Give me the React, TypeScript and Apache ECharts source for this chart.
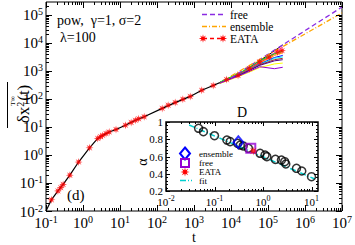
import React, { useEffect, useRef } from "react";
import * as echarts from "echarts";

// ---- main panel data (t, <δx²>) ----
const T_MAIN = [0.1, 0.14, 0.21, 0.29, 0.44, 0.76, 1.5, 2.5, 3.4, 5.1, 7.8, 14, 26, 45, 138, 310, 790, 1620, 3300, 7600];
const Y_MAIN = [0.01, 0.025, 0.052, 0.089, 0.19, 0.56, 1.8, 3.9, 5.0, 6.6, 8.1, 11.5, 17.4, 23, 46, 74, 123, 204, 302, 490];

const T_EATA = [0.14, 0.21, 0.25, 0.29, 0.44, 0.76, 1.5, 2.5, 3.0, 3.4, 4.2, 5.1, 7.8, 14, 20, 26, 32, 45, 138, 200, 310, 500, 790, 1620, 3300, 7600, 15500, 31600, 59000, 107000, 182000, 240000];
const Y_EATA = [0.025, 0.052, 0.068, 0.089, 0.19, 0.56, 1.8, 3.9, 4.5, 5.0, 5.8, 6.6, 8.1, 11.5, 14.5, 17.4, 19.5, 23, 46, 60, 74, 97, 123, 204, 302, 490, 690, 1200, 2090, 3090, 4680, 5300];

const FAN_T = [5000, 20000, 60000, 150000, 250000];
const FAN_Y = [
  [380, 891, 2291, 5248, 8511],
  [380, 871, 2138, 4467, 7079],
  [380, 851, 1995, 3981, 5623],
  [398, 955, 2291, 4169, 5012],
  [380, 832, 1905, 3548, 4467],
  [372, 813, 1778, 3020, 3548],
  [372, 794, 1698, 2818, 3162],
  [372, 794, 1660, 2512, 2818],
  [363, 776, 1585, 2291, 2512],
  [355, 708, 1318, 1778, 1905],
  [363, 741, 1413, 1200, 1350],
];
const FAN_COLORS = ["#000000", "#ff00ff", "#ff0000", "#00ff00", "#ffa500", "#0000ff", "#00ffff", "#a52a2a", "#4b0082", "#ffff00", "#9400d3"];

const T_FREE = [10000, 10000000];
const Y_FREE = [562, 190546];
const T_ENS = [10000, 10000000];
const Y_ENS = [661, 117490];

// ---- inset data (D, α) ----
const ALPHA_D = [0.047, 0.059, 0.1, 0.18, 0.21, 0.3, 0.34, 0.39, 0.5, 0.87, 1.1, 1.2, 1.8, 2.4, 2.8, 2.95, 4.9, 6.3, 10];
const ALPHA = [0.927, 0.888, 0.841, 0.791, 0.772, 0.753, 0.733, 0.722, 0.695, 0.637, 0.617, 0.598, 0.567, 0.559, 0.54, 0.513, 0.463, 0.432, 0.366];
const FIT_D = [0.03, 11.7];
const FIT_A = [0.965, 0.339];
const ENS_PT = [0.31, 0.765];
const FREE_PT = [0.56, 0.695];
const EATA_PT = [0.63, 0.664];

const SERIF = "Liberation Serif";
const L = Math.log10;

function starPath(r: number, inner: number) {
  let d = "";
  for (let i = 0; i < 16; i++) {
    const a = (i * Math.PI) / 8 - Math.PI / 2;
    const rr = i % 2 === 0 ? r : r * inner;
    d += (i === 0 ? "M" : "L") + (rr * Math.cos(a)).toFixed(3) + " " + (rr * Math.sin(a)).toFixed(3) + " ";
  }
  return d + "Z";
}
const STAR_D = starPath(10, 0.4);
const STAR_SYMBOL = "path://" + starPath(10, 0.4);

function logTicks(lo: number, hi: number) {
  const out: number[][] = [];
  for (let e = Math.floor(lo); e <= Math.ceil(hi); e++) {
    for (let k = 1; k <= 9; k++) {
      const v = e + Math.log10(k);
      if (v >= lo - 1e-9 && v <= hi + 1e-9) out.push([v, k === 1 ? 1 : 0]);
    }
  }
  return out;
}
function linTicks(lo: number, hi: number, minor: number, major: number) {
  const out: number[][] = [];
  const n = Math.round((hi - lo) / minor);
  for (let i = 0; i <= n; i++) {
    const v = lo + i * minor;
    const isMajor = Math.abs(v / major - Math.round(v / major)) < 1e-6;
    out.push([v, isMajor ? 1 : 0]);
  }
  return out;
}

function tickSeries(gi: number, dir: "x" | "y", data: number[][], majLen: number, minLen: number) {
  return {
    type: "custom",
    xAxisIndex: gi,
    yAxisIndex: gi,
    silent: true,
    clip: false,
    z: 20,
    data,
    renderItem: (params: any, api: any) => {
      const cs = params.coordSys;
      const v = api.value(0);
      const len = api.value(1) === 1 ? majLen : minLen;
      const st = { stroke: "#000", lineWidth: 1 };
      if (dir === "x") {
        const px = Math.round(api.coord([v, 0.5])[0]) + 0.5;
        const yb = cs.y + cs.height;
        return {
          type: "group",
          children: [
            { type: "line", shape: { x1: px, y1: yb, x2: px, y2: yb - len }, style: st },
            { type: "line", shape: { x1: px, y1: cs.y, x2: px, y2: cs.y + len }, style: st },
          ],
        };
      }
      const py = Math.round(api.coord([0, v])[1]) + 0.5;
      const xr = cs.x + cs.width;
      return {
        type: "group",
        children: [
          { type: "line", shape: { x1: cs.x, y1: py, x2: cs.x + len, y2: py }, style: st },
          { type: "line", shape: { x1: xr, y1: py, x2: xr - len, y2: py }, style: st },
        ],
      };
    },
  };
}

const powFmt = (v: number) => (Math.abs(v - Math.round(v)) > 1e-6 ? "" : `{b|10}{s|${Math.round(v)}}`);

export default function App() {
  const ref = useRef<HTMLDivElement>(null);
  useEffect(() => {
    if (!ref.current) return;
    echarts.graphic.registerShape("star8", echarts.graphic.extendPath(STAR_D, {}) as any);
    const chart = echarts.init(ref.current, null, { renderer: "svg" });
    const mainRich = {
      b: { fontFamily: SERIF, fontSize: 15, color: "#000", verticalAlign: "bottom" },
      s: { fontFamily: SERIF, fontSize: 10, color: "#000", verticalAlign: "bottom", padding: [0, 0, 6, 0] },
    };
    const insetRich = {
      b: { fontFamily: SERIF, fontSize: 11, color: "#000", verticalAlign: "bottom" },
      s: { fontFamily: SERIF, fontSize: 8, color: "#000", verticalAlign: "bottom", padding: [0, 0, 5, 0] },
    };
    const noAxis = { axisLine: { show: false }, axisTick: { show: false }, splitLine: { show: false } };

    const fanSeries = FAN_Y.map((ys, i) => ({
      type: "line",
      xAxisIndex: 0,
      yAxisIndex: 0,
      data: FAN_T.map((t, j) => [L(t), L(ys[j])]),
      symbol: "none",
      lineStyle: { color: FAN_COLORS[i], width: 1 },
      z: 3,
    }));

    chart.setOption({
      animation: false,
      grid: [
        { left: 46, top: 2, width: 299, height: 209, show: true, borderColor: "#000", borderWidth: 1, backgroundColor: "#fff" },
        { left: 166, top: 122, width: 152, height: 69, show: true, borderColor: "#000", borderWidth: 1.5, backgroundColor: "#fff", z: 5 },
      ],
      xAxis: [
        {
          type: "value", gridIndex: 0, min: -1, max: 7, interval: 1, ...noAxis,
          axisLabel: { formatter: powFmt, rich: mainRich, margin: 3 },
        },
        {
          type: "value", gridIndex: 1, min: -2, max: 1.134, interval: 1, ...noAxis,
          axisLabel: { formatter: powFmt, rich: insetRich, margin: 3 },
        },
      ],
      yAxis: [
        {
          type: "value", gridIndex: 0, min: -2, max: 5.46, interval: 1, ...noAxis,
          axisLabel: { formatter: powFmt, rich: mainRich, margin: 3 },
        },
        {
          type: "value", gridIndex: 1, min: 0.2, max: 1, interval: 0.2, ...noAxis,
          axisLabel: { fontFamily: SERIF, fontSize: 11, color: "#000", margin: 3 },
        },
      ],
      series: [
        {
          type: "line", xAxisIndex: 0, yAxisIndex: 0, symbol: "none", z: 3,
          data: T_MAIN.map((t, i) => [L(t), L(Y_MAIN[i])]),
          lineStyle: { color: "#000", width: 1.2 },
        },
        ...fanSeries,
        {
          type: "line", xAxisIndex: 0, yAxisIndex: 0, symbol: "none", z: 4,
          data: T_FREE.map((t, i) => [L(t), L(Y_FREE[i])]),
          lineStyle: { color: "#8a2be2", width: 1.3, type: [5, 3] },
        },
        {
          type: "line", xAxisIndex: 0, yAxisIndex: 0, symbol: "none", z: 4,
          data: T_ENS.map((t, i) => [L(t), L(Y_ENS[i])]),
          lineStyle: { color: "#ffa500", width: 1.3, type: [5, 2, 1, 2] },
        },
        {
          type: "scatter", xAxisIndex: 0, yAxisIndex: 0, symbol: STAR_SYMBOL, symbolSize: 8, z: 6,
          data: T_EATA.map((t, i) => [L(t), L(Y_EATA[i])]),
          itemStyle: { color: "#ff0000" },
        },
        // inset
        {
          type: "line", xAxisIndex: 1, yAxisIndex: 1, symbol: "none", z: 6,
          data: FIT_D.map((d, i) => [L(d), FIT_A[i]]),
          lineStyle: { color: "#00d0d0", width: 1.5, type: [6, 2, 1, 2] },
        },
        {
          type: "scatter", xAxisIndex: 1, yAxisIndex: 1, symbol: "circle", symbolSize: 8, z: 7,
          data: ALPHA_D.map((d, i) => [L(d), ALPHA[i]]),
          itemStyle: { color: "rgba(0,0,0,0)", borderColor: "#000", borderWidth: 1.5 },
        },
        {
          type: "scatter", xAxisIndex: 1, yAxisIndex: 1, symbol: "diamond", symbolSize: [10, 12], z: 8,
          data: [[L(ENS_PT[0]), ENS_PT[1]]],
          itemStyle: { color: "rgba(0,0,0,0)", borderColor: "#0000ff", borderWidth: 2 },
        },
        {
          type: "scatter", xAxisIndex: 1, yAxisIndex: 1, symbol: "rect", symbolSize: 9, z: 8,
          data: [[L(FREE_PT[0]), FREE_PT[1]]],
          itemStyle: { color: "rgba(0,0,0,0)", borderColor: "#9400d3", borderWidth: 2 },
        },
        {
          type: "scatter", xAxisIndex: 1, yAxisIndex: 1, symbol: STAR_SYMBOL, symbolSize: 9, z: 9,
          data: [[L(EATA_PT[0]), EATA_PT[1]]],
          itemStyle: { color: "#ff0000" },
        },
        tickSeries(0, "x", logTicks(-1, 7), 6, 3),
        tickSeries(0, "y", logTicks(-2, 5.46), 6, 3),
        tickSeries(1, "x", logTicks(-2, 1.134), 4, 2),
        tickSeries(1, "y", linTicks(0.2, 1, 0.04, 0.2), 4, 2),
      ],
      graphic: [
        { type: "text", left: 57, top: 13, z: 30, style: { text: "pow,  γ=1, σ=2", fontFamily: SERIF, fontSize: 14, fill: "#000" } },
        { type: "text", left: 60, top: 30, z: 30, style: { text: "λ=100", fontFamily: SERIF, fontSize: 14, fill: "#000" } },
        { type: "text", left: 67, top: 187, z: 30, style: { text: "(d)", fontFamily: SERIF, fontSize: 15, fill: "#000" } },
        { type: "text", left: 237, top: 105, z: 30, style: { text: "D", fontFamily: SERIF, fontSize: 14, fill: "#000" } },
        { type: "text", left: 192, top: 230, z: 30, style: { text: "t", fontFamily: SERIF, fontSize: 14, lineHeight: 14, fill: "#000" } },
        {
          type: "text", x: 142, y: 162, rotation: Math.PI / 2, z: 30,
          style: { text: "α", fontFamily: SERIF, fontSize: 14, fill: "#000", align: "center", verticalAlign: "middle" },
        },
        // y axis title
        {
          type: "text", x: 23, y: 104, rotation: Math.PI / 2, z: 30,
          style: {
            text: "{a|δx}{s|2}{a|(t)}",
            align: "center",
            verticalAlign: "middle",
            rich: {
              a: { fontFamily: SERIF, fontSize: 17, fill: "#000", verticalAlign: "bottom" },
              s: { fontFamily: SERIF, fontSize: 10, fill: "#000", verticalAlign: "bottom", padding: [0, 1, 6, 0] },
            },
          },
        },
        {
          type: "text", x: 13, y: 101, rotation: Math.PI / 2, z: 30,
          style: { text: "T∞", fontFamily: SERIF, fontSize: 7, fill: "#000", align: "center", verticalAlign: "middle" },
        },
        { type: "line", z: 30, shape: { x1: 7.5, y1: 82, x2: 7.5, y2: 128 }, style: { stroke: "#000", lineWidth: 1 } },
        // main legend
        { type: "line", z: 30, shape: { x1: 202, y1: 14.5, x2: 226, y2: 14.5 }, style: { stroke: "#8a2be2", lineWidth: 1.3, lineDash: [5, 3] } },
        { type: "text", left: 230, top: 8.5, z: 30, style: { text: "free", fontFamily: SERIF, fontSize: 11.5, lineHeight: 12, fill: "#000" } },
        { type: "line", z: 30, shape: { x1: 202, y1: 26.5, x2: 226, y2: 26.5 }, style: { stroke: "#ffa500", lineWidth: 1.3, lineDash: [5, 2, 1, 2] } },
        { type: "text", left: 230, top: 20.5, z: 30, style: { text: "ensemble", fontFamily: SERIF, fontSize: 11.5, lineHeight: 12, fill: "#000" } },
        { type: "line", z: 30, shape: { x1: 203, y1: 38.5, x2: 223, y2: 38.5 }, style: { stroke: "#ff0000", lineWidth: 1.3, lineDash: [4, 3] } },
        { type: "star8", x: 203, y: 38.5, scaleX: 0.42, scaleY: 0.42, z: 31, style: { fill: "#ff0000" } },
        { type: "star8", x: 223, y: 38.5, scaleX: 0.42, scaleY: 0.42, z: 31, style: { fill: "#ff0000" } },
        { type: "text", left: 230, top: 32.5, z: 30, style: { text: "EATA", fontFamily: SERIF, fontSize: 11.5, lineHeight: 12, fill: "#000" } },
        // inset legend
        { type: "polygon", z: 30, shape: { points: [[185, 147.5], [190, 153.5], [185, 159.5], [180, 153.5]] }, style: { fill: "none", stroke: "#0000ff", lineWidth: 2 } },
        { type: "text", left: 199, top: 149.5, z: 30, style: { text: "ensemble", fontFamily: SERIF, fontSize: 9, lineHeight: 9, fill: "#000" } },
        { type: "rect", z: 30, shape: { x: 181, y: 159, width: 8, height: 8 }, style: { fill: "none", stroke: "#9400d3", lineWidth: 2 } },
        { type: "text", left: 199, top: 158.5, z: 30, style: { text: "free", fontFamily: SERIF, fontSize: 9, lineHeight: 9, fill: "#000" } },
        { type: "star8", x: 185, y: 172, scaleX: 0.45, scaleY: 0.45, z: 31, style: { fill: "#ff0000" } },
        { type: "text", left: 199, top: 167.5, z: 30, style: { text: "EATA", fontFamily: SERIF, fontSize: 9, lineHeight: 9, fill: "#000" } },
        { type: "line", z: 30, shape: { x1: 180, y1: 180.5, x2: 192, y2: 180.5 }, style: { stroke: "#00d0d0", lineWidth: 1.5, lineDash: [6, 2, 1, 2] } },
        { type: "text", left: 199, top: 176.5, z: 30, style: { text: "fit", fontFamily: SERIF, fontSize: 9, lineHeight: 9, fill: "#000" } },
      ],
    });
    return () => chart.dispose();
  }, []);
  return <div ref={ref} style={{ width: 355, height: 245, position: "absolute", left: 0, top: 0 }} />;
}
